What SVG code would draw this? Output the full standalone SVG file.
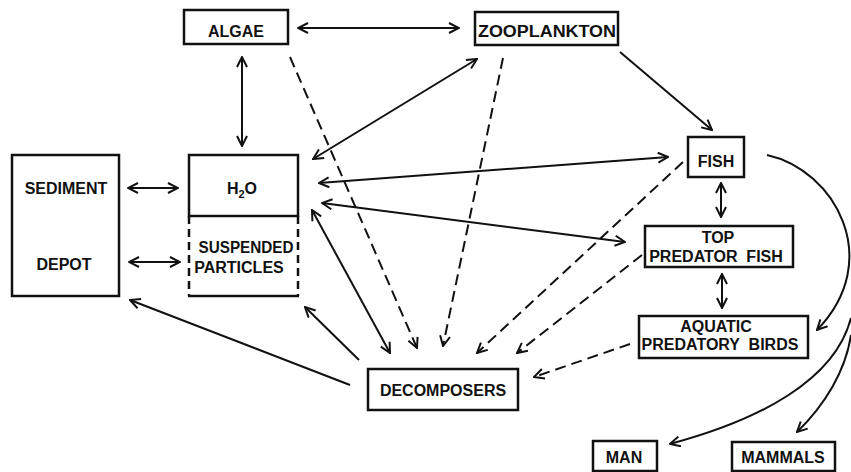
<svg xmlns="http://www.w3.org/2000/svg" width="851" height="472" viewBox="0 0 851 472">
<style>
.box{fill:none;stroke:#111;stroke-width:2.5}
.dbox{fill:none;stroke:#111;stroke-width:2.5;stroke-dasharray:8 5}
.lbl{font-family:"Liberation Sans",Arial,sans-serif;font-weight:bold;font-size:16px;fill:#111;text-anchor:middle}
.c{fill:none;stroke:#111;stroke-width:2}
.d{fill:none;stroke:#111;stroke-width:2;stroke-dasharray:11 6}
.c1{marker-end:url(#ah)}
.c2{marker-end:url(#ah);marker-start:url(#ah)}
</style>
<defs>
<marker id="ah" viewBox="0 0 12 12" refX="11" refY="6" markerWidth="12" markerHeight="12" markerUnits="userSpaceOnUse" orient="auto-start-reverse">
<path d="M1,1 L11,6 L1,11" fill="none" stroke="#111" stroke-width="2" stroke-dasharray="none"/>
</marker>
</defs>
<rect width="851" height="472" fill="#fff"/>
<g id="connectors">
<path class="c c2" d="M298,28 L459,28"/>
<path class="c c2" d="M242,57 L242,146"/>
<path class="c c2" d="M313,159 L477,59"/>
<path class="c c1" d="M620,52 L712,130"/>
<path class="c c2" d="M319,183 L668,157"/>
<path class="c c2" d="M322,203 L625,242"/>
<path class="c c2" d="M128,188 L178,188"/>
<path class="c c2" d="M129,262 L180,262"/>
<path class="c c2" d="M312,210 L390,353"/>
<path class="c c1" d="M359,360 L305,307"/>
<path class="c c1" d="M350,385 L130,300"/>
<path class="d c1" d="M290,57 L417,348"/>
<path class="d c1" d="M503,58 L443,346"/>
<path class="d c1" d="M683,162 L477,353"/>
<path class="d c1" d="M642,255 L517,353"/>
<path class="d c1" d="M630,344 L534,377"/>
<path class="c c2" d="M721,183 L721,217"/>
<path class="c c2" d="M722,274 L722,308"/>
<path class="c c1" d="M767,155 C835,170 885,260 817,330"/>
<path class="c c1" d="M851,318 C835,380 760,420 670,444"/>
<path class="c c1" d="M851,335 C846,370 825,405 797,432"/>
</g>
<g id="algae"><rect class="box" x="184" y="10" width="104" height="34"/><text class="lbl" x="236" y="37">ALGAE</text></g>
<g id="zooplankton"><rect class="box" x="475" y="12" width="143" height="33"/><text class="lbl" x="547" y="37" textLength="138" lengthAdjust="spacingAndGlyphs">ZOOPLANKTON</text></g>
<g id="sediment-depot"><rect class="box" x="12" y="155" width="107" height="141"/><text class="lbl" x="66" y="194">SEDIMENT</text><text class="lbl" x="64" y="270">DEPOT</text></g>
<g id="h2o"><rect class="box" x="189" y="155" width="109" height="61"/><text class="lbl" x="242" y="194">H<tspan font-size="11" dy="4">2</tspan><tspan dy="-4">O</tspan></text></g>
<g id="suspended-particles"><path class="dbox" d="M189,216 L189,296"/><path class="dbox" d="M298,216 L298,296"/><path class="box" d="M188,296 L299,296"/><text class="lbl" x="246" y="253" textLength="95" lengthAdjust="spacingAndGlyphs">SUSPENDED</text><text class="lbl" x="239" y="273">PARTICLES</text></g>
<g id="fish"><rect class="box" x="688" y="137" width="56" height="40"/><text class="lbl" x="716" y="167">FISH</text></g>
<g id="top-predator-fish"><rect class="box" x="645" y="226" width="148" height="41"/><text class="lbl" x="718" y="243">TOP</text><text class="lbl" x="716" y="262" xml:space="preserve">PREDATOR  FISH</text></g>
<g id="aquatic-predatory-birds"><rect class="box" x="639" y="316" width="169" height="42"/><text class="lbl" x="716" y="332">AQUATIC</text><text class="lbl" x="720" y="350" xml:space="preserve">PREDATORY  BIRDS</text></g>
<g id="decomposers"><rect class="box" x="368" y="369" width="150" height="41"/><text class="lbl" x="443" y="396">DECOMPOSERS</text></g>
<g id="man"><rect class="box" x="593" y="441" width="64" height="30"/><text class="lbl" x="624" y="463">MAN</text></g>
<g id="mammals"><rect class="box" x="732" y="442" width="103" height="29"/><text class="lbl" x="783" y="463">MAMMALS</text></g>
</svg>
